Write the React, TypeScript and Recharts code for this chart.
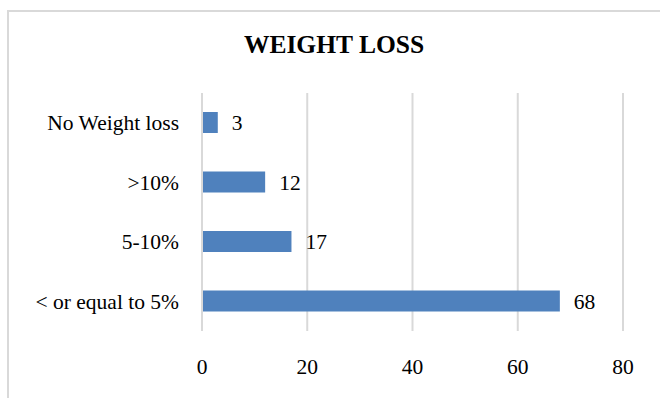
import React from 'react';
import { BarChart, Bar, XAxis, YAxis, CartesianGrid, LabelList } from 'recharts';

// weight loss groups, listed top to bottom
const categories = ['No Weight loss', '>10%', '5-10%', '< or equal to 5%'];
const counts = [3, 12, 17, 68];
const xTicks = [0, 20, 40, 60, 80];

const data = categories.map((name, i) => ({ name, value: counts[i] }));

const serif = '"Liberation Serif", "Times New Roman", serif';
const frame = '#d9d9d9';
const labelSize = 21.5;

export default function App() {
    return (
        <div style={{ position: 'absolute', left: 0, top: 0, width: 660, height: 398, background: '#fff', fontFamily: serif }}>
            {/* chart border: top and left edges only */}
            <div style={{ position: 'absolute', left: 7, top: 10, right: 0, height: 2, background: frame }} />
            <div style={{ position: 'absolute', left: 7, top: 10, bottom: 0, width: 2, background: frame }} />

            <div style={{ position: 'absolute', left: 0, width: 668, top: 30, textAlign: 'center', fontSize: 25.5, fontWeight: 'bold', color: '#000', lineHeight: '30px' }}>
                WEIGHT LOSS
            </div>

            <div style={{ position: 'absolute', left: 0, top: 0 }}>
                <BarChart
                    width={660}
                    height={398}
                    data={data}
                    layout="vertical"
                    margin={{ top: 93, right: 37, bottom: 37, left: 0 }}
                >
                    <CartesianGrid horizontal={false} stroke={frame} strokeWidth={2} />
                    <XAxis
                        type="number"
                        domain={[0, 80]}
                        ticks={xTicks}
                        height={30}
                        axisLine={false}
                        tickLine={false}
                        tickSize={6}
                        tickMargin={22}
                        tick={{ fill: '#000', fontSize: labelSize, fontFamily: serif }}
                    />
                    <YAxis
                        type="category"
                        dataKey="name"
                        width={202}
                        axisLine={{ stroke: frame, strokeWidth: 2 }}
                        tickLine={false}
                        tickSize={6}
                        tickMargin={17}
                        tick={{ fill: '#000', fontSize: labelSize, fontFamily: serif }}
                    />
                    <Bar dataKey="value" fill="#4f81bd" barSize={21} isAnimationActive={false}>
                        <LabelList dataKey="value" position="right" offset={14} fill="#000" fontSize={labelSize} fontFamily={serif} />
                    </Bar>
                </BarChart>
            </div>
        </div>
    );
}
